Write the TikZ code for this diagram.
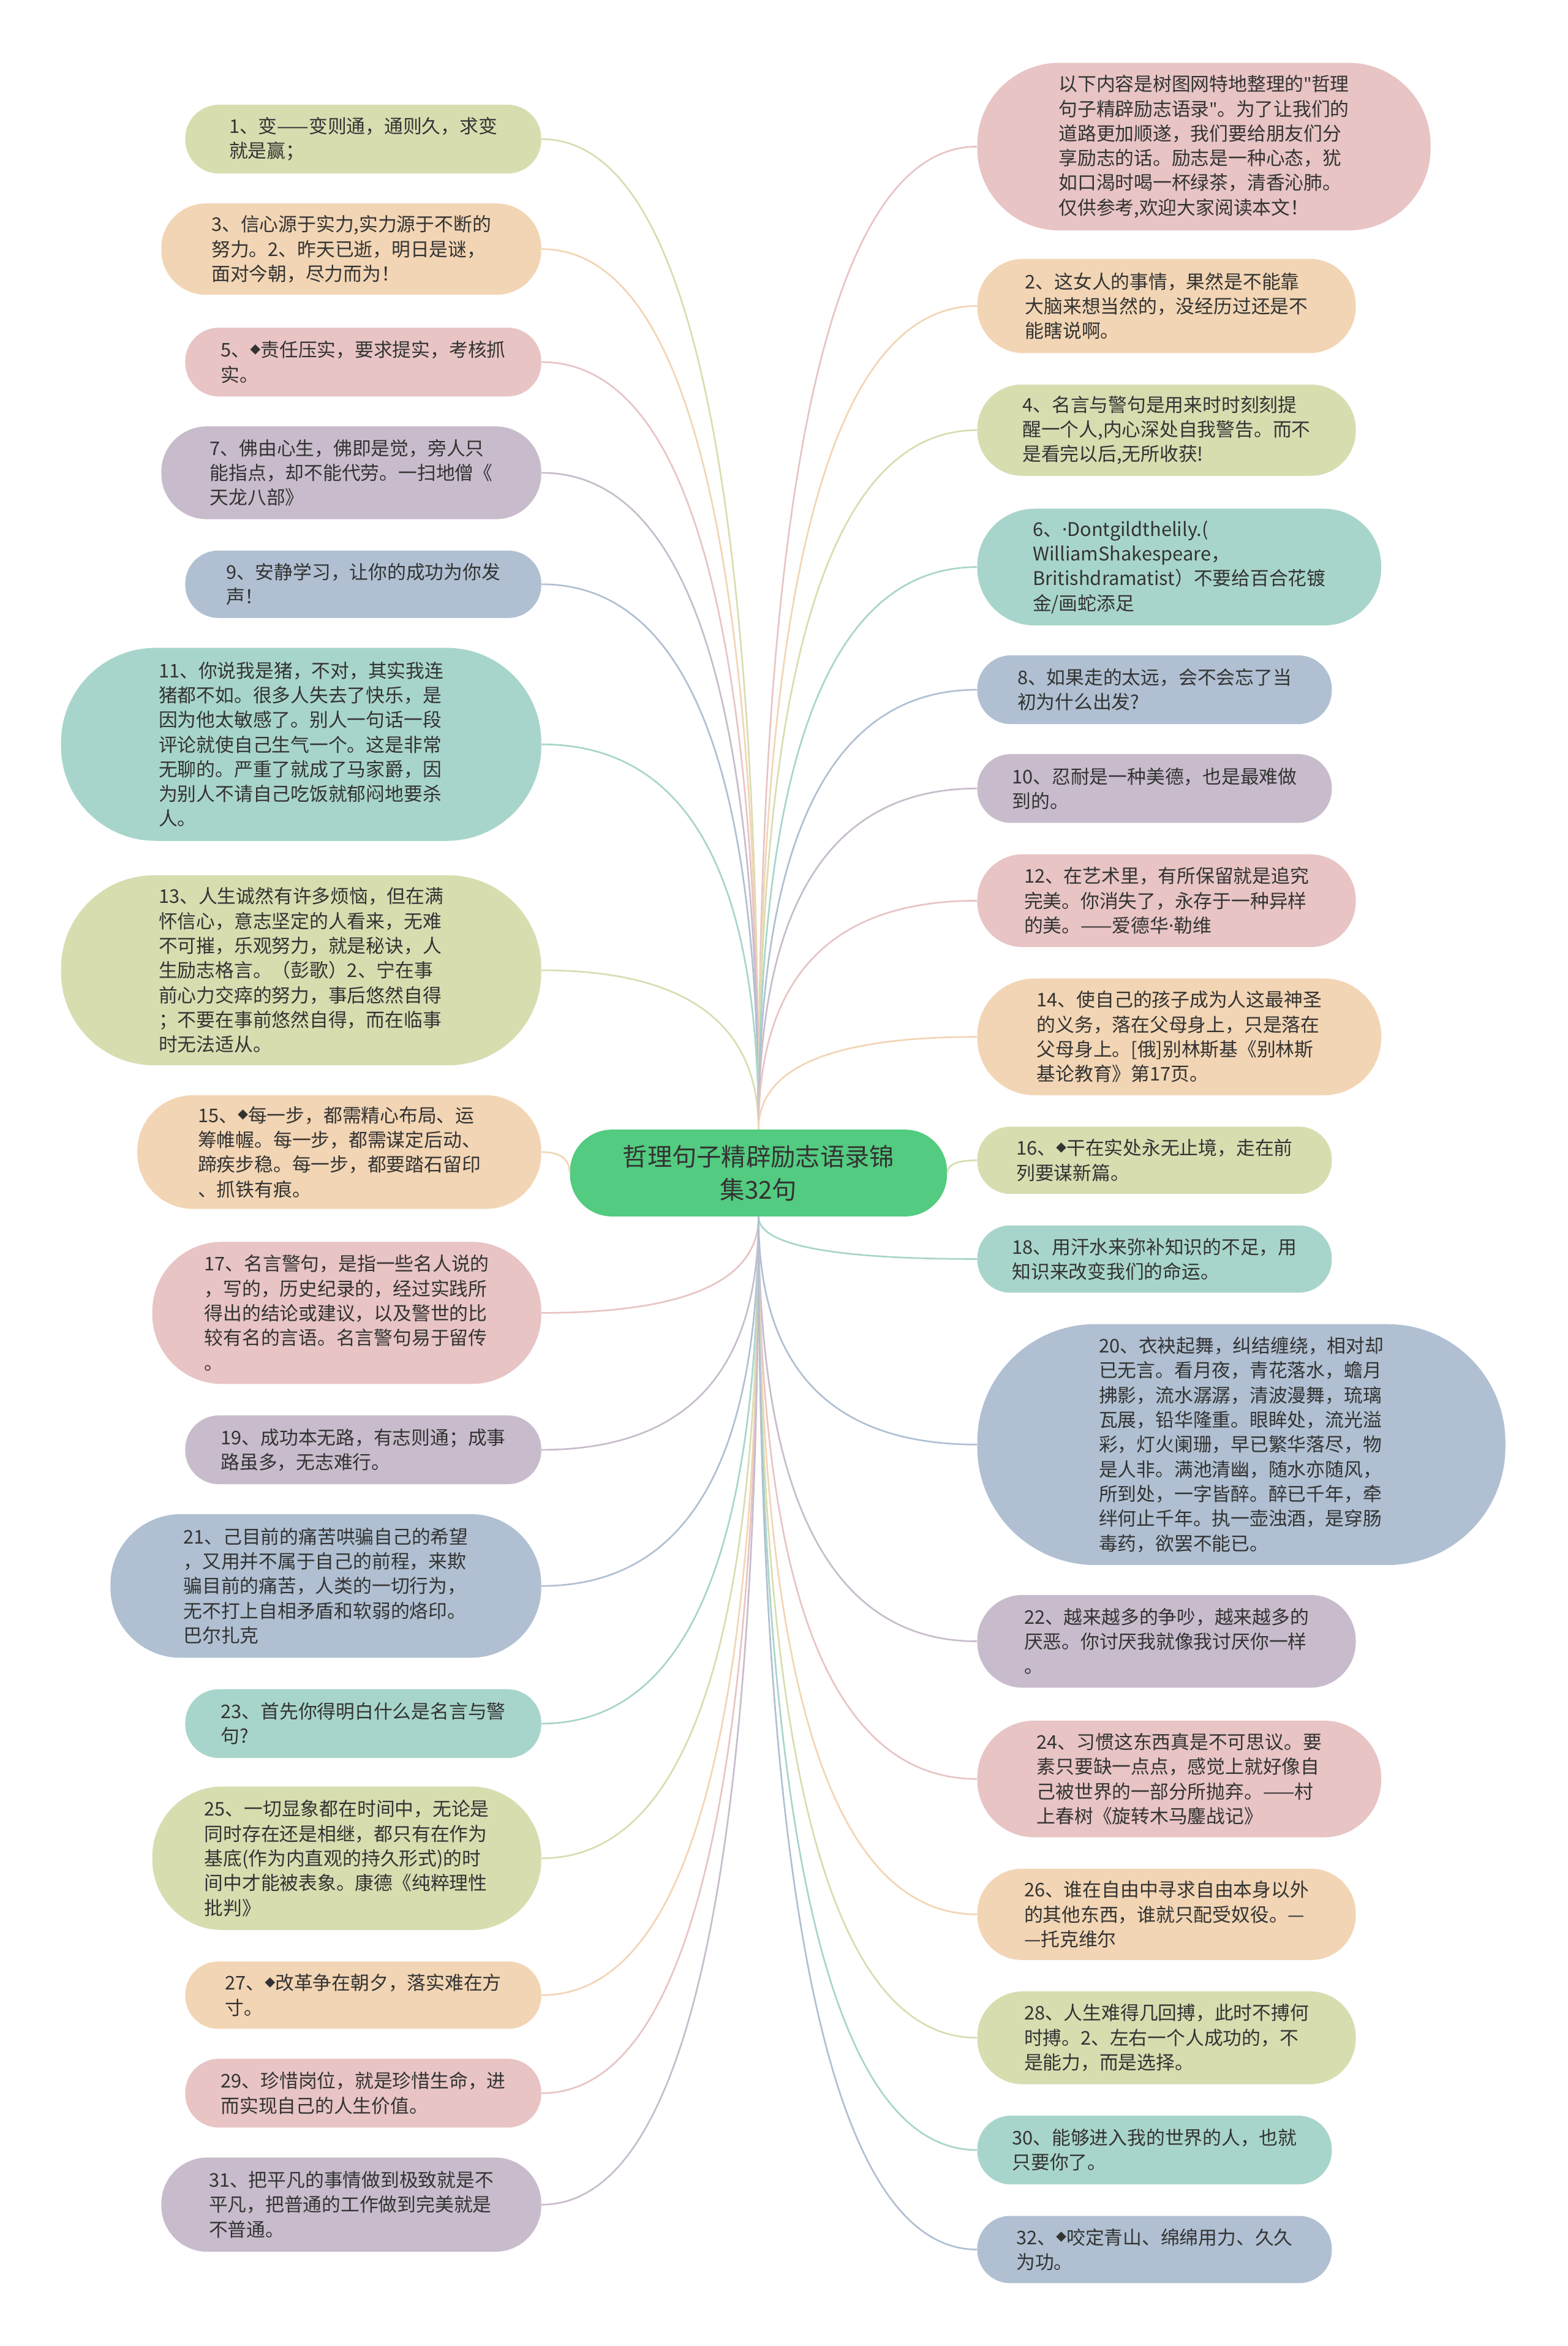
\documentclass[tikz,border=0pt]{standalone}
\usepackage{fontspec}
\setmainfont{Noto Sans CJK SC}
\newfontfamily\latinfont{Noto Sans}
\usetikzlibrary{calc}

\definecolor{olivefill}{HTML}{D8DDB0}
\definecolor{peachfill}{HTML}{F2D5B4}
\definecolor{pinkfill}{HTML}{E8C4C4}
\definecolor{lilacfill}{HTML}{C8BCCC}
\definecolor{slatefill}{HTML}{B0C0D2}
\definecolor{tealfill}{HTML}{A8D5CB}
\definecolor{rootgreen}{HTML}{53CB80}
\definecolor{textgray}{HTML}{333333}

\newcommand\dmark{\raisebox{.18em}{\fontsize{7}{7}\selectfont ◆}}
\newcommand\mdot{{\latinfont ·}}
\newcommand\dquote{{\latinfont "}}

\begin{document}
\begin{tikzpicture}[x=1pt,y=-1pt,
  box/.style n args={3}{fill=#1, minimum width=#2pt, minimum height=#3pt,
    rounded corners=#3*0.49pt, align=left, text=textgray, inner sep=0pt,
    font=\fontsize{12.6}{16.5}\selectfont},
  root/.style={fill=rootgreen, minimum width=252pt, minimum height=58pt,
    rounded corners=28pt, align=center, text=textgray,
    font=\fontsize{16.5}{22}\selectfont},
  link/.style={line width=1.1pt, to path={.. controls
    ($(\tikztostart)!.667!(\tikztostart|-\tikztotarget)$) and
    ($(\tikztotarget)!.667!(\tikztostart|-\tikztotarget)$) .. (\tikztotarget)}}]
  \useasboundingbox (0,0) rectangle (1048,1568);

  \node[root] (root) at (507,784) {哲理句子精辟励志语录锦\\集32句};

  % left side
  \node[box={olivefill}{238}{46}, anchor=east] (n1) at (362,93) {1、变——变则通，通则久，求变\\就是赢；};
  \node[box={peachfill}{254}{61}, anchor=east] (n3) at (362,166.5) {3、信心源于实力,实力源于不断的\\努力。2、昨天已逝，明日是谜，\\面对今朝，尽力而为！};
  \node[box={pinkfill}{238}{46}, anchor=east] (n5) at (362,242) {5、\dmark 责任压实，要求提实，考核抓\\实。};
  \node[box={lilacfill}{254}{62}, anchor=east] (n7) at (362,316) {7、佛由心生，佛即是觉，旁人只\\能指点，却不能代劳。一扫地僧《\\天龙八部》};
  \node[box={slatefill}{238}{45}, anchor=east] (n9) at (362,390.5) {9、安静学习，让你的成功为你发\\声！};
  \node[box={tealfill}{321}{129}, anchor=east] (n11) at (362,497.5) {11、你说我是猪，不对，其实我连\\猪都不如。很多人失去了快乐，是\\因为他太敏感了。别人一句话一段\\评论就使自己生气一个。这是非常\\无聊的。严重了就成了马家爵，因\\为别人不请自己吃饭就郁闷地要杀\\人。};
  \node[box={olivefill}{321}{127}, anchor=east] (n13) at (362,648.5) {13、人生诚然有许多烦恼，但在满\\怀信心，意志坚定的人看来，无难\\不可摧，乐观努力，就是秘诀，人\\生励志格言。（彭歌）2、宁在事\\前心力交瘁的努力，事后悠然自得\\；不要在事前悠然自得，而在临事\\时无法适从。};
  \node[box={peachfill}{270}{76}, anchor=east] (n15) at (362,770) {15、\dmark 每一步，都需精心布局、运\\筹帷幄。每一步，都需谋定后动、\\蹄疾步稳。每一步，都要踏石留印\\、抓铁有痕。};
  \node[box={pinkfill}{260}{95}, anchor=east] (n17) at (362,877.5) {17、名言警句，是指一些名人说的\\，写的，历史纪录的，经过实践所\\得出的结论或建议，以及警世的比\\较有名的言语。名言警句易于留传\\。};
  \node[box={lilacfill}{238}{46}, anchor=east] (n19) at (362,969) {19、成功本无路，有志则通；成事\\路虽多，无志难行。};
  \node[box={slatefill}{288}{96}, anchor=east] (n21) at (362,1060) {21、己目前的痛苦哄骗自己的希望\\，又用并不属于自己的前程，来欺\\骗目前的痛苦，人类的一切行为，\\无不打上自相矛盾和软弱的烙印。\\巴尔扎克};
  \node[box={tealfill}{238}{46}, anchor=east] (n23) at (362,1152) {23、首先你得明白什么是名言与警\\句?};
  \node[box={olivefill}{260}{96}, anchor=east] (n25) at (362,1242) {25、一切显象都在时间中，无论是\\同时存在还是相继，都只有在作为\\基底(作为内直观的持久形式)的时\\间中才能被表象。康德《纯粹理性\\批判》};
  \node[box={peachfill}{238}{45}, anchor=east] (n27) at (362,1333.5) {27、\dmark 改革争在朝夕，落实难在方\\寸。};
  \node[box={pinkfill}{238}{46}, anchor=east] (n29) at (362,1399) {29、珍惜岗位，就是珍惜生命，进\\而实现自己的人生价值。};
  \node[box={lilacfill}{254}{63}, anchor=east] (n31) at (362,1473.5) {31、把平凡的事情做到极致就是不\\平凡，把普通的工作做到完美就是\\不普通。};

  % right side
  \node[box={pinkfill}{303}{112}, anchor=west] (intro) at (653,98) {以下内容是树图网特地整理的\dquote 哲理\\句子精辟励志语录\dquote 。为了让我们的\\道路更加顺遂，我们要给朋友们分\\享励志的话。励志是一种心态，犹\\如口渴时喝一杯绿茶，清香沁肺。\\仅供参考,欢迎大家阅读本文！};
  \node[box={peachfill}{253}{63}, anchor=west] (n2) at (653,204.5) {2、这女人的事情，果然是不能靠\\大脑来想当然的，没经历过还是不\\能瞎说啊。};
  \node[box={olivefill}{253}{61}, anchor=west] (n4) at (653,287.5) {4、名言与警句是用来时时刻刻提\\醒一个人,内心深处自我警告。而不\\是看完以后,无所收获!};
  \node[box={tealfill}{270}{78}, anchor=west] (n6) at (653,379) {6、\mdot Dontgildthelily.(\\WilliamShakespeare，\\Britishdramatist）不要给百合花镀\\金/画蛇添足};
  \node[box={slatefill}{237}{46}, anchor=west] (n8) at (653,461) {8、如果走的太远，会不会忘了当\\初为什么出发?};
  \node[box={lilacfill}{237}{46}, anchor=west] (n10) at (653,527) {10、忍耐是一种美德，也是最难做\\到的。};
  \node[box={pinkfill}{253}{62}, anchor=west] (n12) at (653,602) {12、在艺术里，有所保留就是追究\\完美。你消失了，永存于一种异样\\的美。——爱德华\mdot 勒维};
  \node[box={peachfill}{270}{78}, anchor=west] (n14) at (653,693) {14、使自己的孩子成为人这最神圣\\的义务，落在父母身上，只是落在\\父母身上。[俄]别林斯基《别林斯\\基论教育》第17页。};
  \node[box={olivefill}{237}{45}, anchor=west] (n16) at (653,775.5) {16、\dmark 干在实处永无止境，走在前\\列要谋新篇。};
  \node[box={tealfill}{237}{45}, anchor=west] (n18) at (653,841.5) {18、用汗水来弥补知识的不足，用\\知识来改变我们的命运。};
  \node[box={slatefill}{353}{161}, anchor=west] (n20) at (653,965.5) {20、衣袂起舞，纠结缠绕，相对却\\已无言。看月夜，青花落水，蟾月\\拂影，流水潺潺，清波漫舞，琉璃\\瓦展，铅华隆重。眼眸处，流光溢\\彩，灯火阑珊，早已繁华落尽，物\\是人非。满池清幽，随水亦随风，\\所到处，一字皆醉。醉已千年，牵\\绊何止千年。执一壶浊酒，是穿肠\\毒药，欲罢不能已。};
  \node[box={lilacfill}{253}{62}, anchor=west] (n22) at (653,1097) {22、越来越多的争吵，越来越多的\\厌恶。你讨厌我就像我讨厌你一样\\。};
  \node[box={pinkfill}{270}{78}, anchor=west] (n24) at (653,1189) {24、习惯这东西真是不可思议。要\\素只要缺一点点，感觉上就好像自\\己被世界的一部分所抛弃。——村\\上春树《旋转木马鏖战记》};
  \node[box={peachfill}{253}{61}, anchor=west] (n26) at (653,1279.5) {26、谁在自由中寻求自由本身以外\\的其他东西，谁就只配受奴役。—\\—托克维尔};
  \node[box={olivefill}{253}{62}, anchor=west] (n28) at (653,1362) {28、人生难得几回搏，此时不搏何\\时搏。2、左右一个人成功的，不\\是能力，而是选择。};
  \node[box={tealfill}{237}{46}, anchor=west] (n30) at (653,1437) {30、能够进入我的世界的人，也就\\只要你了。};
  \node[box={slatefill}{237}{45}, anchor=west] (n32) at (653,1503.5) {32、\dmark 咬定青山、绵绵用力、久久\\为功。};

  % connectors
  \foreach \n/\col in {n1/olivefill, n3/peachfill, n5/pinkfill, n7/lilacfill,
      n9/slatefill, n11/tealfill, n13/olivefill}
    \draw[link, draw=\col] (root.north) to (\n.east);
  \draw[link, draw=peachfill] (root.west) to (n15.east);
  \foreach \n/\col in {n17/pinkfill, n19/lilacfill, n21/slatefill, n23/tealfill,
      n25/olivefill, n27/peachfill, n29/pinkfill, n31/lilacfill}
    \draw[link, draw=\col] (root.south) to (\n.east);
  \foreach \n/\col in {intro/pinkfill, n2/peachfill, n4/olivefill, n6/tealfill,
      n8/slatefill, n10/lilacfill, n12/pinkfill, n14/peachfill}
    \draw[link, draw=\col] (root.north) to (\n.west);
  \draw[link, draw=olivefill] (root.east) to (n16.west);
  \foreach \n/\col in {n18/tealfill, n20/slatefill, n22/lilacfill, n24/pinkfill,
      n26/peachfill, n28/olivefill, n30/tealfill, n32/slatefill}
    \draw[link, draw=\col] (root.south) to (\n.west);
\end{tikzpicture}
\end{document}
